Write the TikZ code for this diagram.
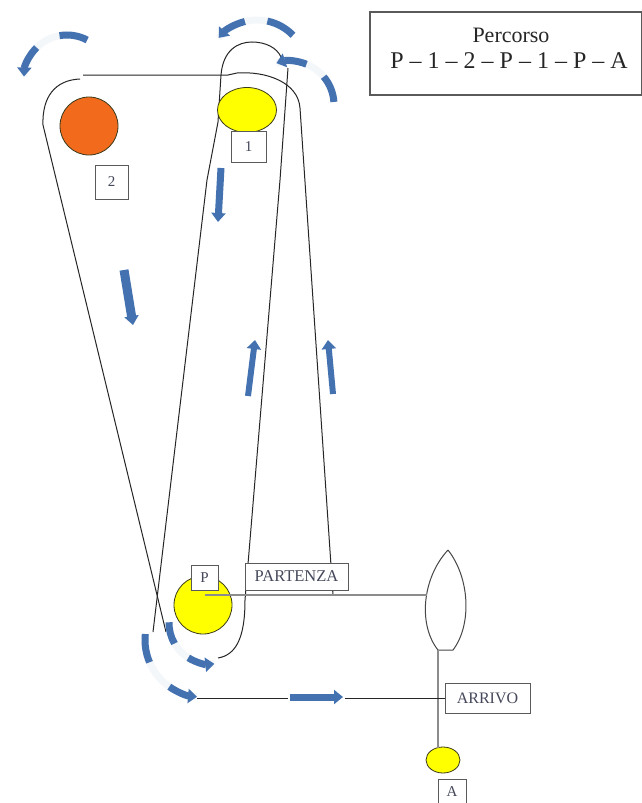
\documentclass[tikz,border=0pt]{standalone}
\usepackage{fontspec}
\setmainfont{Liberation Serif}
\usetikzlibrary{arrows.meta,shapes.geometric}
\definecolor{arrblue}{HTML}{4472B0}
\definecolor{orangeC}{HTML}{F26B1D}
\definecolor{yellowC}{HTML}{FFFF00}
\definecolor{lineC}{HTML}{262626}
\definecolor{grayC}{HTML}{8C8C8C}
\definecolor{boxC}{HTML}{5A5A5A}
\definecolor{labC}{HTML}{45485A}
\definecolor{ballC}{HTML}{3A3A1A}
\newcommand\cvarrow[6]{%
  \draw[cvfade] ([shift={(#3:#2)}]#1) arc[start angle=#3,end angle=#6,radius=#2];
  \draw[cvtail] ([shift={(#3:#2)}]#1) arc[start angle=#3,end angle=#4,radius=#2];
  \draw[cvhead] ([shift={(#5:#2)}]#1) arc[start angle=#5,end angle=#6,radius=#2];}
\begin{document}
\begin{tikzpicture}[x=1pt,y=-1pt,
  ln/.style={draw=lineC, line width=1pt},
  gln/.style={draw=grayC, line width=1.2pt},
  lbox/.style={draw=boxC, line width=0.8pt, fill=white, inner sep=0pt, text=labC, font=\fontsize{15}{15}\selectfont},
  ball/.style={draw=ballC, line width=0.8pt, inner sep=0pt},
  fatarrow/.style={draw=arrblue, line width=#1, -{Triangle[length=9pt,width=14pt]}},
  fatarrow/.default=7pt,
  cvfade/.style={draw=arrblue!6, line width=7pt},
  cvtail/.style={draw=arrblue, line width=7pt},
  cvhead/.style={draw=arrblue, line width=7pt, -{Triangle[length=9pt,width=14pt]}}]
\useasboundingbox (0,0) rectangle (641,803);
\fill[white] (0,0) rectangle (641,803);

% legend box
\node[draw=boxC, line width=1.2pt, minimum width=272pt, minimum height=83pt, inner sep=0pt] (perc) at (506,53.5) {};
\node[anchor=base, font=\fontsize{22}{22}\selectfont, text=black!85] (percT) at (511,42) {Percorso};
\node[anchor=base, font=\fontsize{24}{24}\selectfont, text=black!85] (percR) at (509,68) {P – 1 – 2 – P – 1 – P – A};

% loop A (P - 1 - 2 - P)
\coordinate (a1) at (333,595);
\coordinate (a2) at (300,108);
\coordinate (a3) at (237,73);
\coordinate (a4) at (228,75);
\coordinate (a5) at (83,75);
\coordinate (a6) at (80,79);
\coordinate (a7) at (43,125);
\coordinate (a8) at (166,632);
\draw[ln] (a1) -- (a2) .. controls (298,82) and (266,71) .. (a3) -- (a4) -- (a5);
\draw[ln] (a6) .. controls (55,80) and (42,97) .. (a7) -- (a8);

% loop B (P - 1 - P)
\coordinate (b1) at (153,632);
\coordinate (b2) at (207,180);
\coordinate (b3) at (218,122);
\coordinate (b4) at (221,75);
\coordinate (b5) at (252,42);
\coordinate (b6) at (281,57);
\coordinate (b7) at (288,68);
\coordinate (b8) at (280,180);
\coordinate (b9) at (245,600);
\coordinate (b10) at (218,658);
\draw[ln] (b1) -- (b2) -- (b3) -- (b4) .. controls (223,50) and (238,42) .. (b5) .. controls (266,42) and (277,48) .. (b6);
\draw[ln] (b7) -- (b8) -- (b9) .. controls (245,640) and (235,655) .. (b10);

% balls and labels
\node[ball, fill=orangeC, circle, minimum size=58pt] (c2) at (89,126) {};
\node[lbox, minimum width=33pt, minimum height=34pt] (l2) at (111.5,182) {2};
\node[ball, fill=yellowC, ellipse, minimum width=59pt, minimum height=45pt] (c1) at (247,110) {};
\node[lbox, minimum width=35pt, minimum height=31pt] (l1) at (248.5,146.5) {1};
\node[ball, fill=yellowC, circle, minimum size=58pt] (cP) at (203,605) {};

% lens
\coordinate (lt) at (448,550);
\coordinate (lb1) at (438,650);
\coordinate (lb2) at (453,650);
\coordinate (lL) at (427,595);
\draw[ln, draw=lineC!85] (lt) .. controls (422,578) and (418,625) .. (lb1) -- (lb2) .. controls (472,625) and (470,578) .. (lt);

% start line
\coordinate (pS) at (205,595);
\draw[gln] (pS) -- (lL);
\node[lbox, minimum width=27pt, minimum height=25pt] (lP) at (204.5,577.5) {P};
\node[lbox, minimum width=103pt, minimum height=27pt, font=\fontsize{16.5}{16.5}\selectfont] (part) at (296.5,576.5) {PARTENZA};

% arrival
\node[ball, fill=yellowC, ellipse, minimum width=34pt, minimum height=26pt] (cA) at (443,760) {};
\coordinate (vB) at (438,748);
\draw[gln] (lb1) -- (vB);
\node[lbox, minimum width=85pt, minimum height=30pt, font=\fontsize{16}{16}\selectfont] (arr) at (487.5,698) {ARRIVO};
\node[lbox, minimum width=28pt, minimum height=26pt] (lA) at (452,792) {A};
\coordinate (h0) at (197,698);
\coordinate (h1) at (288,698);
\coordinate (h2) at (345,698);
\draw[ln] (h0) -- (h1);
\draw[ln] (h2) -- (arr.west);

% straight arrows
\coordinate (s1a) at (221,168); \coordinate (s1b) at (218,222);
\coordinate (s2a) at (124,270); \coordinate (s2b) at (133,325);
\coordinate (s3a) at (248,396); \coordinate (s3b) at (255,340);
\coordinate (s4a) at (333,394); \coordinate (s4b) at (328,340);
\coordinate (s5a) at (290,697); \coordinate (s5b) at (343,697);
\draw[fatarrow] (s1a) -- (s1b);
\draw[fatarrow=9pt] (s2a) -- (s2b);
\draw[fatarrow=6pt] (s3a) -- (s3b);
\draw[fatarrow=6pt] (s4a) -- (s4b);
\draw[fatarrow] (s5a) -- (s5b);

% curved arrows
\coordinate (k6) at (67,78);
\coordinate (k7) at (257,70);
\coordinate (k8) at (290,105);
\coordinate (k9) at (210,623);
\coordinate (k10) at (202,640);
\cvarrow{k6}{43}{-62}{-100}{-135}{-178}
\cvarrow{k7}{50}{-44}{-78}{-104}{-140}
\cvarrow{k8}{44}{-4}{-40}{-68}{-108}
\cvarrow{k9}{41}{181}{150}{122}{84}
\cvarrow{k10}{57}{186}{157}{125}{95}
\end{tikzpicture}
\end{document}
